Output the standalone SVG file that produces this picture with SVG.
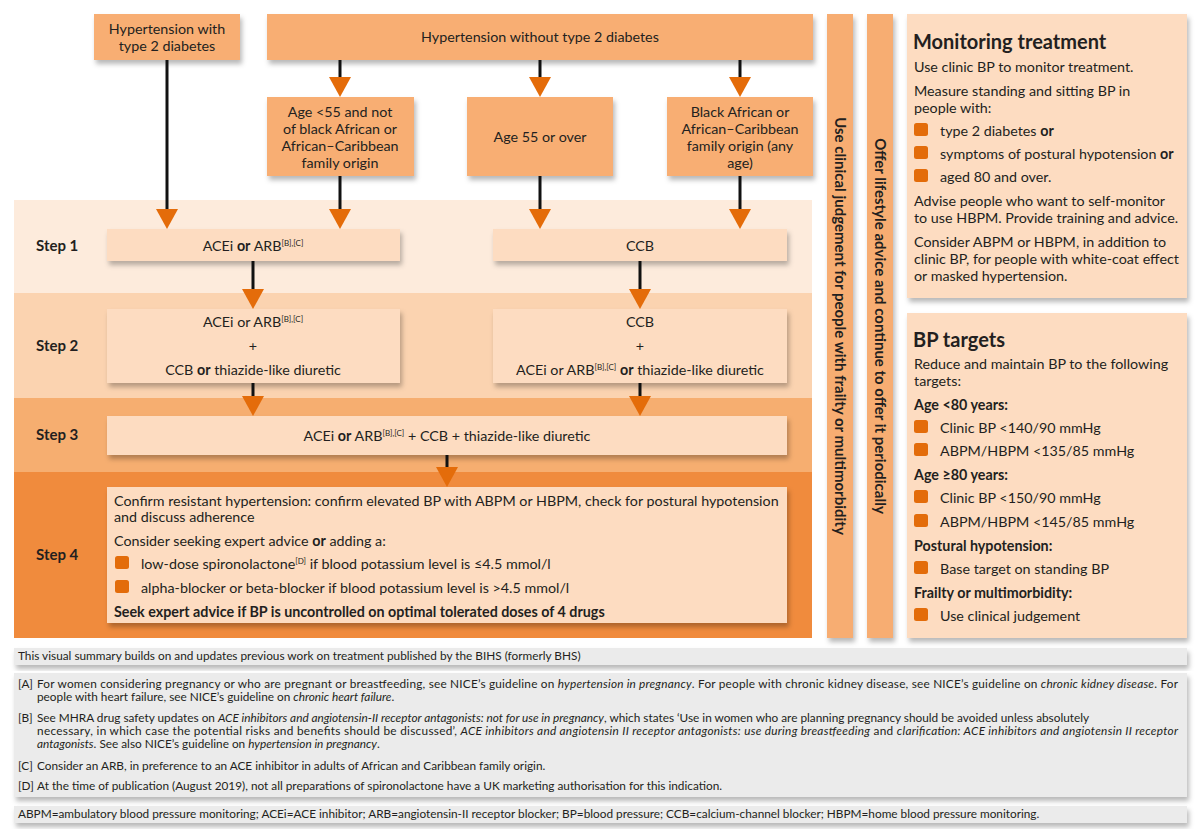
<svg xmlns="http://www.w3.org/2000/svg" width="1200" height="838" viewBox="0 0 1200 838">
<defs>
<style>
text{font-family:Lato,"Open Sans","Liberation Sans",sans-serif;font-size:14.3px;fill:#231f20}
.c{text-anchor:middle}
.b{font-weight:bold}
.i{font-style:italic}
.sup{font-size:8px}
.h{font-size:20px;font-weight:bold}
.st{font-size:15px;font-weight:bold}
.f{font-size:11.8px}
.vt{font-weight:bold;font-size:15px;text-anchor:middle}
.top{fill:#f8ae73}
.bar{fill:#f7ad72}
.box{fill:#fddcc1}
.panel{fill:#fddcc1}
.foot{fill:#ebebeb}
.bul{fill:#e36c0a}
.con line{stroke:#111;stroke-width:3;marker-end:url(#ah)}
</style>
<filter id="sh" x="-10%" y="-20%" width="130%" height="150%">
<feDropShadow dx="2" dy="4" stdDeviation="2.5" flood-color="#000" flood-opacity="0.28"/>
</filter>
<marker id="ah" viewBox="0 0 20 22" refX="0" refY="11" markerWidth="20" markerHeight="22" markerUnits="userSpaceOnUse" orient="auto">
<path d="M0,0 L20,11 L0,22 z" fill="#e46c0a"/>
</marker>
</defs>
<rect width="1200" height="838" fill="#ffffff"/>

<g id="bands">
<rect x="14" y="200" width="798" height="93" fill="#fdebdc"/>
<rect x="14" y="293" width="798" height="105" fill="#fbd3b0"/>
<rect x="14" y="398" width="798" height="74" fill="#f6ae70"/>
<rect x="14" y="472" width="798" height="166" fill="#f08b3d"/>
<text class="st" x="36" y="251">Step 1</text>
<text class="st" x="36" y="351">Step 2</text>
<text class="st" x="36" y="440">Step 3</text>
<text class="st" x="36" y="560">Step 4</text>
</g>

<g id="n-t2d">
<rect class="top" x="94" y="14" width="146" height="46" filter="url(#sh)"/>
<text class="c" x="167" y="34">Hypertension with</text>
<text class="c" x="167" y="51">type 2 diabetes</text>
</g>
<g id="n-not2d">
<rect class="top" x="267" y="14" width="546" height="46" filter="url(#sh)"/>
<text class="c" x="540" y="42">Hypertension without type 2 diabetes</text>
</g>
<g id="n-age55under">
<rect class="top" x="267" y="97" width="147" height="79" filter="url(#sh)"/>
<text class="c" x="340" y="117">Age &lt;55 and not</text>
<text class="c" x="340" y="134">of black African or</text>
<text class="c" x="340" y="151">African–Caribbean</text>
<text class="c" x="340" y="168">family origin</text>
</g>
<g id="n-age55over">
<rect class="top" x="467" y="97" width="146" height="79" filter="url(#sh)"/>
<text class="c" x="540" y="142">Age 55 or over</text>
</g>
<g id="n-black">
<rect class="top" x="667" y="97" width="146" height="79" filter="url(#sh)"/>
<text class="c" x="740" y="117">Black African or</text>
<text class="c" x="740" y="134">African–Caribbean</text>
<text class="c" x="740" y="151">family origin (any</text>
<text class="c" x="740" y="168">age)</text>
</g>

<g id="n-step1a">
<rect class="box" x="107" y="229" width="293" height="32" filter="url(#sh)"/>
<text class="c" x="253" y="251">ACEi <tspan class="b">or</tspan> ARB<tspan class="sup" dy="-5">[B],[C]</tspan></text>
</g>
<g id="n-step1b">
<rect class="box" x="493" y="229" width="294" height="32" filter="url(#sh)"/>
<text class="c" x="640" y="251">CCB</text>
</g>
<g id="n-step2a">
<rect class="box" x="107" y="309" width="293" height="74" filter="url(#sh)"/>
<text class="c" x="253" y="327">ACEi or ARB<tspan class="sup" dy="-5">[B],[C]</tspan></text>
<text class="c" x="253" y="351">+</text>
<text class="c" x="253" y="375">CCB <tspan class="b">or</tspan> thiazide-like diuretic</text>
</g>
<g id="n-step2b">
<rect class="box" x="493" y="309" width="294" height="74" filter="url(#sh)"/>
<text class="c" x="640" y="327">CCB</text>
<text class="c" x="640" y="351">+</text>
<text class="c" x="640" y="375">ACEi or ARB<tspan class="sup" dy="-5">[B],[C]</tspan><tspan dy="5"> </tspan><tspan class="b">or</tspan> thiazide-like diuretic</text>
</g>
<g id="n-step3">
<rect class="box" x="107" y="416" width="680" height="39" filter="url(#sh)"/>
<text class="c" x="447" y="441">ACEi <tspan class="b">or</tspan> ARB<tspan class="sup" dy="-5">[B],[C]</tspan><tspan dy="5"> + CCB + thiazide-like diuretic</tspan></text>
</g>
<g id="n-step4">
<rect class="box" x="107" y="487" width="680" height="136" filter="url(#sh)"/>
<text x="114" y="506">Confirm resistant hypertension: confirm elevated BP with ABPM or HBPM, check for postural hypotension</text>
<text x="114" y="522">and discuss adherence</text>
<text x="114" y="546">Consider seeking expert advice <tspan class="b">or</tspan> adding a:</text>
<rect class="bul" x="115" y="556" width="14" height="13" rx="2.5"/>
<text x="141" y="569">low-dose spironolactone<tspan class="sup" dy="-5">[D]</tspan><tspan dy="5"> if blood potassium level is ≤4.5 mmol/l</tspan></text>
<rect class="bul" x="115" y="580" width="14" height="13" rx="2.5"/>
<text x="141" y="593">alpha-blocker or beta-blocker if blood potassium level is &gt;4.5 mmol/l</text>
<text class="b" x="114" y="617">Seek expert advice if BP is uncontrolled on optimal tolerated doses of 4 drugs</text>
</g>

<g id="n-frailty">
<rect class="bar" x="827" y="14" width="26" height="624" filter="url(#sh)"/>
<text class="vt" transform="translate(834.5,326) rotate(90)">Use clinical judgement for people with frailty or multimorbidity</text>
</g>
<g id="n-lifestyle">
<rect class="bar" x="867" y="14" width="26" height="624" filter="url(#sh)"/>
<text class="vt" transform="translate(874.5,326) rotate(90)">Offer lifestyle advice and continue to offer it periodically</text>
</g>

<g id="n-monitoring">
<rect class="panel" x="907" y="14" width="280" height="284" filter="url(#sh)"/>
<text class="h" x="913" y="49">Monitoring treatment</text>
<text x="914" y="72">Use clinic BP to monitor treatment.</text>
<text x="914" y="96">Measure standing and sitting BP in</text>
<text x="914" y="113">people with:</text>
<rect class="bul" x="914" y="123" width="14" height="13" rx="2.5"/>
<text x="940" y="136">type 2 diabetes <tspan class="b">or</tspan></text>
<rect class="bul" x="914" y="146" width="14" height="13" rx="2.5"/>
<text x="940" y="159">symptoms of postural hypotension <tspan class="b">or</tspan></text>
<rect class="bul" x="914" y="169" width="14" height="13" rx="2.5"/>
<text x="940" y="182">aged 80 and over.</text>
<text x="914" y="206">Advise people who want to self-monitor</text>
<text x="914" y="223">to use HBPM. Provide training and advice.</text>
<text x="914" y="247">Consider ABPM or HBPM, in addition to</text>
<text x="914" y="264">clinic BP, for people with white-coat effect</text>
<text x="914" y="281">or masked hypertension.</text>
</g>

<g id="n-targets">
<rect class="panel" x="907" y="313" width="280" height="325" filter="url(#sh)"/>
<text class="h" x="913" y="347">BP targets</text>
<text x="914" y="369">Reduce and maintain BP to the following</text>
<text x="914" y="386">targets:</text>
<text class="b" x="914" y="410">Age &lt;80 years:</text>
<rect class="bul" x="914" y="420" width="14" height="13" rx="2.5"/>
<text x="940" y="433">Clinic BP &lt;140/90 mmHg</text>
<rect class="bul" x="914" y="443" width="14" height="13" rx="2.5"/>
<text x="940" y="456">ABPM/HBPM &lt;135/85 mmHg</text>
<text class="b" x="914" y="480">Age ≥80 years:</text>
<rect class="bul" x="914" y="490" width="14" height="13" rx="2.5"/>
<text x="940" y="503">Clinic BP &lt;150/90 mmHg</text>
<rect class="bul" x="914" y="514" width="14" height="13" rx="2.5"/>
<text x="940" y="527">ABPM/HBPM &lt;145/85 mmHg</text>
<text class="b" x="914" y="551">Postural hypotension:</text>
<rect class="bul" x="914" y="561" width="14" height="13" rx="2.5"/>
<text x="940" y="574">Base target on standing BP</text>
<text class="b" x="914" y="598">Frailty or multimorbidity:</text>
<rect class="bul" x="914" y="608" width="14" height="13" rx="2.5"/>
<text x="940" y="621">Use clinical judgement</text>
</g>

<g id="n-footer1">
<rect class="foot" x="14" y="648" width="1173" height="17" filter="url(#sh)"/>
<text class="f" x="18" y="660">This visual summary builds on and updates previous work on treatment published by the BIHS (formerly BHS)</text>
</g>
<g id="n-footnotes">
<rect class="foot" x="14" y="673" width="1173" height="124" filter="url(#sh)"/>
<text class="f" x="18" y="688">[A]</text>
<text class="f" x="37" y="688" textLength="1141" lengthAdjust="spacing">For women considering pregnancy or who are pregnant or breastfeeding, see NICE’s guideline on <tspan class="i">hypertension in pregnancy</tspan>. For people with chronic kidney disease, see NICE’s guideline on <tspan class="i">chronic kidney disease</tspan>. For</text>
<text class="f" x="37" y="701">people with heart failure, see NICE’s guideline on <tspan class="i">chronic heart failure</tspan>.</text>
<text class="f" x="18" y="722">[B]</text>
<text class="f" x="37" y="722">See MHRA drug safety updates on <tspan class="i">ACE inhibitors and angiotensin-II receptor antagonists: not for use in pregnancy</tspan>, which states ‘Use in women who are planning pregnancy should be avoided unless absolutely</text>
<text class="f" x="37" y="735" textLength="1141" lengthAdjust="spacing">necessary, in which case the potential risks and benefits should be discussed’, <tspan class="i">ACE inhibitors and angiotensin II receptor antagonists: use during breastfeeding</tspan> and <tspan class="i">clarification: ACE inhibitors and angiotensin II receptor</tspan></text>
<text class="f" x="37" y="748"><tspan class="i">antagonists</tspan>. See also NICE’s guideline on <tspan class="i">hypertension in pregnancy</tspan>.</text>
<text class="f" x="18" y="770">[C]</text>
<text class="f" x="37" y="770">Consider an ARB, in preference to an ACE inhibitor in adults of African and Caribbean family origin.</text>
<text class="f" x="18" y="790">[D]</text>
<text class="f" x="37" y="790">At the time of publication (August 2019), not all preparations of spironolactone have a UK marketing authorisation for this indication.</text>
</g>
<g id="n-abbrev">
<rect class="foot" x="14" y="806" width="1173" height="17" filter="url(#sh)"/>
<text class="f" x="18" y="818">ABPM=ambulatory blood pressure monitoring; ACEi=ACE inhibitor; ARB=angiotensin-II receptor blocker; BP=blood pressure; CCB=calcium-channel blocker; HBPM=home blood pressure monitoring.</text>
</g>

<g id="connectors" class="con">
<line x1="167" y1="60" x2="167" y2="209"/>
<line x1="340" y1="60" x2="340" y2="77"/>
<line x1="540" y1="60" x2="540" y2="77"/>
<line x1="740" y1="60" x2="740" y2="77"/>
<line x1="340" y1="176" x2="340" y2="209"/>
<line x1="540" y1="176" x2="540" y2="209"/>
<line x1="740" y1="176" x2="740" y2="209"/>
<line x1="253" y1="261" x2="253" y2="289"/>
<line x1="640" y1="261" x2="640" y2="289"/>
<line x1="253" y1="383" x2="253" y2="396"/>
<line x1="640" y1="383" x2="640" y2="396"/>
<line x1="447" y1="455" x2="447" y2="467"/>
</g>
</svg>
